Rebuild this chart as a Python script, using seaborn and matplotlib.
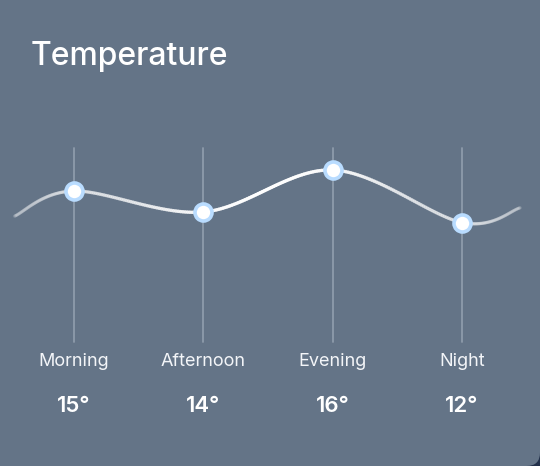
import numpy as np
import pandas as pd
import matplotlib
matplotlib.use("Agg")
import matplotlib.pyplot as plt
from matplotlib.collections import LineCollection
from matplotlib.patches import FancyBboxPatch
import seaborn as sns

periods = ["Morning", "Afternoon", "Evening", "Night"]
temps = [15, 14, 16, 12]
# height of each marker on the curve (the card does not scale these linearly)
curve_level = [15.0, 14.0, 16.0, 13.5]
# faded tails of the curve beyond the first / last point
tail_x = [-0.46, 3.45]
tail_level = [13.8, 14.2]

BG = "#647487"
OUTER = "#22304a"

sns.set_theme(style="white")
plt.rcParams["font.family"] = ["Inter", "DejaVu Sans"]

df = pd.DataFrame({"period": periods, "x": np.arange(len(periods)),
                   "level": curve_level, "temp": temps})


def catmull_rom(xs, ys, n=60):
    # smooth drawing path through the control points
    px = np.concatenate([[xs[0]], xs, [xs[-1]]])
    py = np.concatenate([[ys[0]], ys, [ys[-1]]])
    out_x, out_y = [], []
    for i in range(1, len(px) - 2):
        t = np.linspace(0, 1, n)
        for arr, out in ((px, out_x), (py, out_y)):
            p0, p1, p2, p3 = arr[i - 1], arr[i], arr[i + 1], arr[i + 2]
            out.append(0.5 * ((2 * p1) + (-p0 + p2) * t
                              + (2 * p0 - 5 * p1 + 4 * p2 - p3) * t ** 2
                              + (-p0 + 3 * p1 - 3 * p2 + p3) * t ** 3))
    return np.concatenate(out_x), np.concatenate(out_y)


fig = plt.figure(figsize=(5.4, 4.66), dpi=100, facecolor=OUTER)
ax = fig.add_axes([0, 0, 1, 1])
ax.set_facecolor("none")

# card background, only the bottom-right corner is visible
card = FancyBboxPatch((-0.1, 0), 1.1, 1.1, boxstyle="round,pad=0,rounding_size=0.025",
                      transform=ax.transAxes, facecolor=BG, edgecolor="none",
                      mutation_aspect=540 / 466, zorder=0)
ax.add_patch(card)

# pixel-aligned data limits
sp = 129.33
ax.set_xlim(-74 / sp, (540 - 74) / sp)
ax.set_ylim(15 - (466 - 191) / 21, 15 + 191 / 21)

def py(p):
    return 15 - (p - 191) / 21

# vertical guide lines
for x in df["x"]:
    ax.plot([x, x], [py(148), py(342)], color="#8e9bab", lw=1.3, zorder=1)

# smooth curve with horizontal fade
cx = np.concatenate([[tail_x[0]], df["x"].values, [tail_x[1]]])
cy = np.concatenate([[tail_level[0]], df["level"].values, [tail_level[1]]])
sx, sy = catmull_rom(cx, cy)
pts = np.column_stack([sx, sy]).reshape(-1, 1, 2)
segs = np.concatenate([pts[:-1], pts[1:]], axis=1)
mid = (sx[:-1] + sx[1:]) / 2
alpha = np.interp(mid, [-0.46, 0, 0.5, 1, 1.5, 2, 2.5, 3, 3.45],
                  [0.12, 0.42, 0.55, 0.75, 1.0, 0.75, 0.55, 0.42, 0.12])
cols = np.ones((len(mid), 4))
cols[:, 3] = alpha
ax.add_collection(LineCollection(segs, colors=cols, linewidths=2.4,
                                 capstyle="round", zorder=2))

# markers
sns.scatterplot(data=df, x="x", y="level", ax=ax, s=150, color="white",
                edgecolor="#b9dcff", linewidth=2.6, zorder=3, legend=False)

for _, r in df.iterrows():
    ax.text(r["x"], py(361), r["period"], ha="center", va="center",
            color="#f3f5f8", fontsize=13)
    ax.text(r["x"], py(406), f"{r['temp']}°", ha="center", va="center",
            color="white", fontsize=16, fontweight="semibold")

fig.text(31 / 540, 1 - 56 / 466, "Temperature", ha="left", va="center",
         color="white", fontsize=23, fontweight="medium")

ax.set_axis_off()
fig.savefig("out.png", dpi=100, facecolor=OUTER)
